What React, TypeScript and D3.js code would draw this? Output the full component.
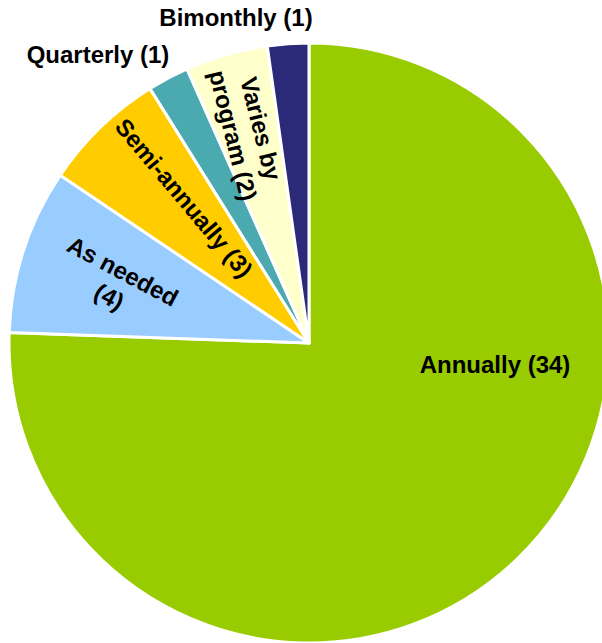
import React from "react";
import * as d3 from "d3";

const categories = ["Annually", "As needed", "Semi-annually", "Quarterly", "Varies by program", "Bimonthly"];
const values = [34, 4, 3, 1, 2, 1];
const colors = ["#99CC00", "#99CCFF", "#FFCC00", "#4BA9B0", "#FFFFCC", "#2A2A78"];
const labelLines = [
  ["Annually (34)"],
  ["As needed", "(4)"],
  ["Semi-annually (3)"],
  ["Quarterly (1)"],
  ["Varies by", "program (2)"],
  ["Bimonthly (1)"],
];

// label layout (position + rotation), separate from data
const labelLayout = [
  { x: 495, y: 365, rot: 0 },
  { x: 116, y: 284, rot: 28 },
  { x: 184, y: 198, rot: 50 },
  { x: 98, y: 55, rot: 0 },
  { x: 247, y: 132, rot: 76 },
  { x: 236, y: 18, rot: 0 },
];

export default function App() {
  const W = 602, H = 643;
  const cx = 309, cy = 343, r = 300;
  const pie = d3.pie<number>().sort(null).value((d) => d)(values);
  const arc = d3.arc<d3.PieArcDatum<number>>().innerRadius(0).outerRadius(r);
  const fs = 24;
  return (
    <svg width={W} height={H} style={{ position: "absolute", left: 0, top: 0 }}
      fontFamily="'Liberation Sans', Arial, sans-serif">
      <g transform={`translate(${cx},${cy})`}>
        {pie.map((p, i) => (
          <path key={i} d={arc(p) || ""} fill={colors[i]} stroke="#fff" strokeWidth={3} strokeLinejoin="round" />
        ))}
      </g>
      {labelLines.map((lines, i) => {
        const L = labelLayout[i];
        const lh = fs * 1.2;
        const off = -((lines.length - 1) * lh) / 2;
        return (
          <text key={i} transform={`translate(${L.x},${L.y}) rotate(${L.rot})`} textAnchor="middle"
            fontWeight="bold" fontSize={fs} fill="#000">
            {lines.map((t, j) => (
              <tspan key={j} x={0} y={off + j * lh} dy="0.35em">{t}</tspan>
            ))}
          </text>
        );
      })}
    </svg>
  );
}
